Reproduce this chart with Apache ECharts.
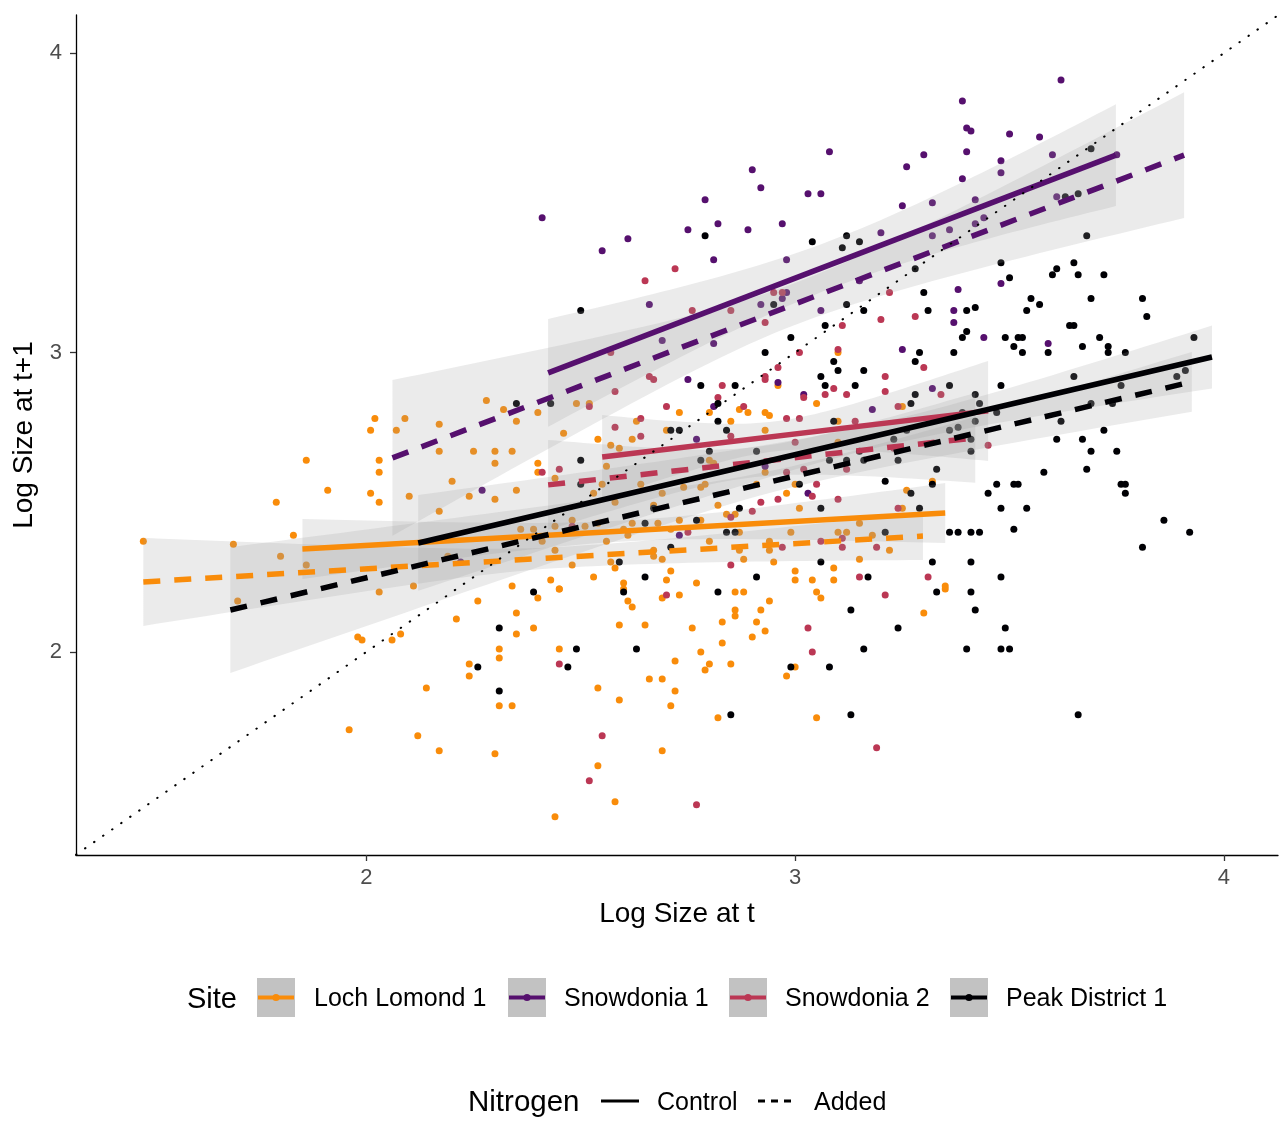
<!DOCTYPE html>
<html><head><meta charset="utf-8">
<script src="https://cdn.jsdelivr.net/npm/echarts@6/dist/echarts.min.js"></script>
<style>html,body{margin:0;padding:0;background:#fff}#c{width:1286px;height:1121px}</style>
</head><body><div id="c"></div><script>
// ---------- axis ranges & ticks ----------
const xRange = [1.323, 4.126];
const yRange = [1.322, 4.127];
const tickValues = [2, 3, 4];

// ---------- sites ----------
const sites = ['Loch Lomond 1', 'Snowdonia 1', 'Snowdonia 2', 'Peak District 1'];
const siteColors = ['#F98C0A', '#56106E', '#BB3754', '#000004'];
const nitrogenLevels = ['Control', 'Added'];

// ---------- observations [log size at t, log size at t+1] ----------
const lochLomond = [
[1.48,2.37],[1.69,2.36],[1.79,2.50],[1.86,2.64],[1.91,2.54],[1.83,2.39],[1.80,2.32],[1.86,2.29],[2.02,2.78],[2.01,2.74],
[2.09,2.78],[2.07,2.74],[2.17,2.76],[2.03,2.64],[2.03,2.60],[2.01,2.53],[2.03,2.50],[2.10,2.52],[2.17,2.47],[2.20,2.57],
[2.17,2.67],[2.25,2.67],[2.30,2.67],[2.30,2.63],[2.28,2.84],[2.24,2.52],[2.30,2.51],[2.19,2.32],[2.11,2.22],[1.70,2.17],
[2.03,2.20],[1.98,2.05],[1.99,2.04],[2.06,2.04],[2.08,2.06],[2.21,2.11],[2.26,2.17],[2.24,1.96],[2.24,1.92],[2.14,1.88],
[1.96,1.74],[2.12,1.72],[2.17,1.67],[2.30,1.66],[2.31,2.01],[2.31,1.98],[2.31,1.82],[2.45,2.21],[2.40,2.18],[2.35,2.13],
[2.35,2.06],[2.39,2.08],[2.45,2.01],[2.34,1.82],[2.54,1.88],[2.59,1.84],[2.61,2.17],[2.62,2.15],[2.59,2.09],[2.65,2.09],
[2.69,2.18],[2.73,2.19],[2.76,2.08],[2.72,1.97],[2.78,2.00],[2.80,1.96],[2.79,1.94],[2.69,1.91],[2.66,1.91],[2.72,1.87],
[2.71,1.82],[2.83,2.10],[2.83,2.03],[2.86,2.14],[2.86,2.12],[2.86,2.20],[2.88,2.20],[2.92,2.14],[2.94,2.17],[2.91,2.10],
[2.93,2.07],[2.90,2.05],[2.85,1.96],[2.98,1.92],[3.00,1.95],[3.05,2.20],[3.06,2.18],[2.82,1.78],[3.05,1.78],[2.69,1.67],
[2.54,1.62],[2.58,1.50],[2.44,1.45],[3.30,2.13],[3.35,2.21],[3.25,2.82],[3.26,2.54],[3.25,2.48],[3.18,2.39],[3.22,2.34],
[3.35,2.22],[3.32,2.57],[2.32,2.81],[2.35,2.77],[2.40,2.80],[2.49,2.83],[2.52,2.83],[2.46,2.73],[2.34,2.67],[2.40,2.63],
[2.40,2.60],[2.35,2.54],[2.54,2.71],[2.57,2.69],[2.59,2.68],[2.62,2.71],[2.63,2.77],[2.73,2.80],[2.70,2.74],[2.56,2.62],
[2.44,2.58],[2.53,2.53],[2.55,2.56],[2.58,2.50],[2.64,2.56],[2.69,2.53],[2.74,2.55],[2.78,2.55],[2.79,2.56],[2.80,2.64],
[2.81,2.63],[2.87,2.81],[2.89,2.80],[2.85,2.77],[2.80,2.80],[2.93,2.80],[2.94,2.79],[2.93,2.74],[2.96,2.89],[3.05,2.83],
[3.10,2.77],[3.10,3.00],[3.10,2.70],[2.93,2.60],[2.91,2.56],[3.00,2.56],[2.98,2.53],[3.01,2.48],[2.84,2.46],[2.86,2.46],
[2.82,2.49],[2.73,2.44],[2.67,2.49],[2.78,2.44],[2.71,2.41],[2.68,2.43],[2.61,2.39],[2.60,2.41],[2.54,2.43],[2.48,2.44],
[2.44,2.42],[2.39,2.41],[2.36,2.41],[2.41,2.37],[2.56,2.37],[2.62,2.43],[2.51,2.42],[2.80,2.37],[2.87,2.40],[2.87,2.34],
[2.94,2.34],[2.95,2.30],[2.99,2.40],[3.10,2.40],[3.12,2.40],[3.15,2.43],[3.15,2.31],[3.09,2.28],[3.04,2.24],[3.09,2.24],
[3.00,2.27],[3.00,2.24],[2.43,2.24],[2.45,2.21],[2.53,2.25],[2.60,2.23],[2.60,2.21],[2.70,2.24],[2.71,2.27],[2.77,2.23],
[2.58,2.28],[2.57,2.30],[2.48,2.29],[2.67,2.32],[2.69,2.31],[2.67,2.34],[2.88,2.31],[2.94,2.37],[2.44,2.34],[2.34,2.22]
];
const snowdonia1 = [
[3.62,3.91],[3.39,3.84],[3.40,3.75],[3.41,3.74],[3.50,3.73],[3.57,3.72],[3.30,3.66],[3.40,3.67],[3.26,3.62],[3.48,3.64],
[3.48,3.60],[3.39,3.58],[3.60,3.66],[3.75,3.66],[3.25,3.49],[3.32,3.50],[3.42,3.51],[3.20,3.40],[3.32,3.39],[3.36,3.41],
[3.44,3.45],[3.42,3.43],[3.61,3.52],[3.48,3.23],[3.38,3.21],[3.37,3.14],[3.37,3.10],[2.41,3.45],[2.55,3.34],[2.61,3.38],
[2.75,3.41],[2.79,3.51],[2.82,3.43],[2.90,3.61],[2.92,3.55],[2.89,3.41],[2.97,3.43],[3.03,3.53],[3.06,3.53],[3.08,3.67],
[2.81,3.31],[2.98,3.31],[2.66,3.16],[2.98,3.20],[2.97,3.18],[2.92,3.16],[3.06,3.14],[3.15,3.24],[2.69,3.04],[2.81,3.03],
[2.75,2.91],[2.96,2.90],[3.02,2.86],[2.81,2.82],[2.77,2.71],[2.93,2.62],[3.03,2.53],[2.73,2.39],[3.44,3.05],[3.59,3.03],
[3.25,3.01],[3.32,2.88],[3.18,2.81],[2.27,2.54],[2.22,2.30]
];
const snowdonia2 = [
[2.70,2.19],[2.45,1.96],[2.55,1.72],[2.52,1.57],[2.77,1.49],[3.03,2.08],[3.04,2.00],[3.21,2.19],[3.19,1.68],[3.30,2.95],
[3.21,2.92],[3.21,2.87],[3.34,2.86],[3.24,2.82],[3.23,2.68],[3.45,2.69],[3.24,2.48],[3.19,2.35],[3.31,2.25],[3.22,3.20],
[3.20,3.11],[3.28,3.12],[2.65,3.24],[2.72,3.28],[2.76,3.14],[2.85,3.14],[2.93,3.10],[2.97,3.20],[2.95,3.20],[3.11,3.09],
[2.57,3.00],[2.66,2.92],[2.67,2.91],[2.58,2.87],[2.52,2.82],[2.58,2.75],[2.64,2.78],[2.64,2.72],[2.70,2.82],[2.83,2.89],
[2.82,2.85],[2.88,2.82],[2.85,2.72],[2.93,2.92],[2.93,2.91],[2.96,2.95],[3.01,3.00],[3.10,3.01],[3.09,2.88],[3.07,2.86],
[3.02,2.85],[3.12,2.86],[2.98,2.78],[3.01,2.78],[3.14,2.77],[3.00,2.70],[2.98,2.60],[3.02,2.61],[3.05,2.56],[3.04,2.52],
[3.10,2.51],[3.12,2.61],[2.96,2.51],[2.92,2.50],[2.90,2.47],[2.85,2.45],[2.75,2.40],[2.48,2.42],[2.41,2.60],[2.45,2.61],
[3.06,2.37],[3.11,2.38],[3.11,2.35],[3.15,2.25],[2.85,2.29],[2.97,2.35]
];
const peakDistrict = [
[2.31,2.08],[2.26,1.95],[2.31,1.87],[2.39,2.20],[2.60,2.20],[2.82,2.20],[2.49,2.01],[2.47,1.95],[2.63,2.01],[3.13,2.14],
[3.16,2.01],[2.99,1.95],[3.08,1.95],[2.85,1.79],[3.13,1.79],[3.33,2.20],[3.41,2.20],[3.42,2.14],[3.24,2.08],[3.49,2.08],
[3.40,2.01],[3.48,2.01],[3.50,2.01],[3.66,1.79],[3.40,3.07],[3.39,3.05],[3.49,3.05],[3.52,3.05],[3.53,3.05],[3.51,3.02],
[3.53,3.00],[3.37,3.00],[3.29,3.00],[3.28,2.97],[3.36,2.89],[3.28,2.86],[3.27,2.83],[3.42,2.86],[3.43,2.83],[3.48,2.89],
[3.39,2.80],[3.38,2.75],[3.42,2.77],[3.36,2.74],[3.47,2.80],[3.26,2.74],[3.23,2.71],[3.41,2.71],[3.41,2.67],[3.24,2.64],
[3.33,2.61],[3.21,2.57],[3.32,2.56],[3.27,2.53],[3.29,2.48],[3.47,2.56],[3.51,2.56],[3.52,2.56],[3.45,2.53],[3.48,2.48],
[3.54,2.48],[3.65,2.92],[3.67,3.02],[3.71,3.05],[3.73,3.02],[3.73,3.00],[3.77,3.00],[3.59,3.00],[3.93,3.05],[3.89,2.92],
[3.91,2.94],[3.76,2.89],[3.69,2.83],[3.74,2.83],[3.62,2.77],[3.72,2.74],[3.61,2.71],[3.67,2.71],[3.69,2.67],[3.75,2.67],
[3.58,2.60],[3.68,2.61],[3.76,2.56],[3.77,2.56],[3.77,2.53],[3.86,2.44],[3.92,2.40],[3.81,2.35],[3.36,2.40],[3.38,2.40],
[3.41,2.40],[3.43,2.40],[3.51,2.41],[3.21,2.40],[3.32,2.30],[3.41,2.30],[3.48,2.25],[3.69,3.68],[3.63,3.52],[3.66,3.53],
[3.68,3.39],[3.28,3.28],[3.48,3.30],[3.50,3.25],[3.60,3.26],[3.61,3.28],[3.65,3.30],[3.66,3.26],[3.72,3.26],[3.30,3.20],
[3.31,3.14],[3.40,3.14],[3.42,3.15],[3.55,3.18],[3.57,3.16],[3.54,3.14],[3.69,3.18],[3.81,3.18],[3.82,3.12],[3.64,3.09],
[3.65,3.09],[2.79,3.39],[2.50,3.14],[3.04,3.37],[3.12,3.39],[3.11,3.35],[3.15,3.37],[2.95,3.16],[3.12,3.16],[3.16,3.14],
[3.07,3.09],[2.35,2.83],[2.43,2.83],[2.50,2.64],[2.50,2.56],[2.71,2.74],[2.73,2.74],[2.84,2.74],[2.82,2.77],[2.82,2.83],
[2.78,2.89],[2.86,2.89],[2.93,3.00],[2.99,3.05],[3.09,2.97],[3.10,2.94],[3.06,2.92],[3.07,2.89],[3.14,2.89],[3.16,2.94],
[2.80,2.67],[2.91,2.67],[2.78,2.64],[3.09,2.77],[3.15,2.67],[3.08,2.64],[3.16,2.64],[3.12,2.64],[3.01,2.56],[3.06,2.48],
[2.87,2.48],[2.67,2.48],[2.65,2.43],[2.77,2.44],[2.84,2.40],[2.86,2.40],[2.71,2.35],[2.59,2.30],[2.65,2.25],[2.91,2.25],
[3.06,2.30],[3.17,2.25]
];
const siteData = [lochLomond, snowdonia1, snowdonia2, peakDistrict];

// ---------- fitted lines (lm) with confidence band half-widths ----------
const fitSite     = [0, 0, 1, 1, 2, 2, 3, 3];
const fitNitrogen = [0, 1, 0, 1, 0, 1, 0, 1];
const fitX0  = [1.851, 1.480, 2.424, 2.061, 2.550, 2.424, 2.121, 1.683];
const fitX1  = [3.350, 3.298, 3.748, 3.907, 3.450, 3.420, 3.972, 3.925];
const fitY0  = [2.344, 2.234, 2.932, 2.648, 2.651, 2.558, 2.364, 2.140];
const fitY1  = [2.464, 2.387, 3.659, 3.659, 2.805, 2.715, 2.985, 2.902];
const bandXc = [2.60, 2.45, 3.08, 3.00, 2.95, 2.90, 3.20, 3.00];
const bandH0 = [0.100, 0.147, 0.180, 0.260, 0.140, 0.150, 0.160, 0.210];
const bandHc = [0.035, 0.035, 0.080, 0.070, 0.050, 0.050, 0.040, 0.035];
const bandH1 = [0.100, 0.080, 0.170, 0.210, 0.167, 0.150, 0.105, 0.100];

const FONT = '"Liberation Sans", Arial, Helvetica, sans-serif';

function bandHalf(i, x) {
  const xc = bandXc[i], hc = bandHc[i];
  const xe = x < xc ? fitX0[i] : fitX1[i];
  const he = x < xc ? bandH0[i] : bandH1[i];
  const k = (he * he - hc * hc) / Math.max(1e-9, (xe - xc) * (xe - xc));
  return Math.sqrt(hc * hc + k * (x - xc) * (x - xc));
}
function fitY(i, x) {
  return fitY0[i] + (fitY1[i] - fitY0[i]) * (x - fitX0[i]) / (fitX1[i] - fitX0[i]);
}

const series = [];
siteData.forEach((d, s) => {
  series.push({
    type: 'scatter', name: sites[s], data: d, symbol: 'circle', symbolSize: 7,
    itemStyle: { color: siteColors[s], opacity: 1 }, z: 2, silent: true
  });
});
series.push({
  type: 'custom', z: 3, silent: true, clip: true,
  data: fitSite.map((_, i) => [i]),
  renderItem: function (params, api) {
    const i = api.value(0);
    const N = 60, up = [], lo = [];
    for (let j = 0; j <= N; j++) {
      const x = fitX0[i] + (fitX1[i] - fitX0[i]) * j / N;
      const y = fitY(i, x), h = bandHalf(i, x);
      up.push(api.coord([x, y + h]));
      lo.push(api.coord([x, y - h]));
    }
    return { type: 'polygon', shape: { points: up.concat(lo.reverse()) },
      style: { fill: 'rgba(153,153,153,0.2)', stroke: null } };
  }
});
fitSite.forEach((s, i) => {
  series.push({
    type: 'line', data: [[fitX0[i], fitY0[i]], [fitX1[i], fitY1[i]]],
    showSymbol: false, symbol: 'none', z: 4, silent: true,
    lineStyle: { color: siteColors[s], width: 5.5, cap: 'butt',
      type: fitNitrogen[i] === 0 ? 'solid' : [17, 14] }
  });
});
series.push({
  type: 'line', data: [[xRange[0], xRange[0]], [xRange[1], xRange[1]]],
  showSymbol: false, symbol: 'none', z: 5, silent: true,
  lineStyle: { color: '#000', width: 2, type: [0.5, 10.5], cap: 'round' }
});

const graphic = [];
graphic.push({ type: 'text', left: 187, top: 985, style: { text: 'Site', font: '29px ' + FONT, fill: '#000' } });
const keyX = [257, 508, 729, 950];
const labX = [314, 564, 785, 1006];
sites.forEach((s, i) => {
  graphic.push({ type: 'rect', shape: { x: keyX[i], y: 978, width: 38, height: 39 }, style: { fill: '#C2C2C2' } });
  graphic.push({ type: 'line', shape: { x1: keyX[i] + 1, y1: 997.5, x2: keyX[i] + 37, y2: 997.5 }, style: { stroke: siteColors[i], lineWidth: 4 } });
  graphic.push({ type: 'circle', shape: { cx: keyX[i] + 19, cy: 997.5, r: 3.6 }, style: { fill: siteColors[i] } });
  graphic.push({ type: 'text', left: labX[i], top: 987, style: { text: s, font: '25px ' + FONT, fill: '#000' } });
});
graphic.push({ type: 'text', left: 468, top: 1088, style: { text: 'Nitrogen', font: '29.5px ' + FONT, fill: '#000' } });
graphic.push({ type: 'line', shape: { x1: 601, y1: 1101, x2: 639, y2: 1101 }, style: { stroke: '#000', lineWidth: 3 } });
graphic.push({ type: 'text', left: 657, top: 1091, style: { text: nitrogenLevels[0], font: '25px ' + FONT, fill: '#000' } });
graphic.push({ type: 'line', shape: { x1: 758, y1: 1101, x2: 796, y2: 1101 }, style: { stroke: '#000', lineWidth: 3, lineDash: [7, 6] } });
graphic.push({ type: 'text', left: 814, top: 1091, style: { text: nitrogenLevels[1], font: '25px ' + FONT, fill: '#000' } });

const axisCommon = {
  type: 'value', splitLine: { show: false },
  axisLine: { show: true, lineStyle: { color: '#000', width: 1.3 } },
  axisTick: { show: true, length: 6, lineStyle: { color: '#333', width: 1.3 }, customValues: tickValues },
  axisLabel: { customValues: tickValues, color: '#4D4D4D', fontSize: 22, fontFamily: FONT },
  nameLocation: 'middle',
  nameTextStyle: { color: '#000', fontSize: 28, fontFamily: FONT }
};

const chart = echarts.init(document.getElementById('c'), null, { renderer: 'canvas' });
chart.setOption({
  animation: false,
  backgroundColor: '#fff',
  grid: { left: 76, right: 8, top: 15, bottom: 266, containLabel: false },
  xAxis: Object.assign({}, axisCommon, { min: xRange[0], max: xRange[1], name: 'Log Size at t', nameGap: 45,
    axisLabel: Object.assign({}, axisCommon.axisLabel, { margin: 12 }) }),
  yAxis: Object.assign({}, axisCommon, { min: yRange[0], max: yRange[1], name: 'Log Size at t+1', nameGap: 38,
    axisLabel: Object.assign({}, axisCommon.axisLabel, { margin: 14 }) }),
  series: series,
  graphic: graphic
});
</script></body></html>
